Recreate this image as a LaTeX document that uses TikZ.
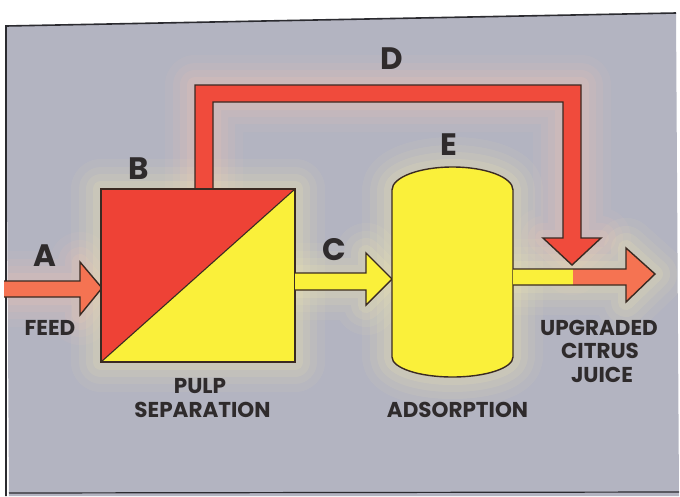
\documentclass[tikz,border=0pt]{standalone}
\usepackage{fontspec}
\setmainfont{Poppins}
\definecolor{bg}{HTML}{B3B4C1}
\definecolor{frameC}{HTML}{2B2B30}
\definecolor{redC}{HTML}{EE4236}
\definecolor{pipeC}{HTML}{F04B3C}
\definecolor{orC}{HTML}{F57352}
\definecolor{yelC}{HTML}{FAF03A}
\definecolor{lineC}{HTML}{3A2A22}
\definecolor{txt}{HTML}{2F2B2C}
\definecolor{glowR}{HTML}{F2C4B6}
\definecolor{glowY}{HTML}{EEE6B4}
\newcommand\glowit[2]{\foreach \gw/\go in {60/0.08,44/0.10,30/0.13,16/0.18}{\draw[draw=#1,line width=\gw pt,opacity=\go,line join=round,line cap=round] #2;}}
\def\pathA{(4,281) -- (80,281) -- (80,262) -- (102,288) -- (80,315) -- (80,297) -- (4,297)}
\def\pathD{(195,189) -- (195,85) -- (581,85) -- (581,238) -- (601,238) -- (572,265) -- (543,238) -- (563,238) -- (563,102) -- (213,102) -- (213,189)}
\def\pathC{(295,273) -- (366,273) -- (366,253) -- (392,279) -- (366,305) -- (366,290) -- (295,290)}
\def\pathE{(392,357) -- (392,190) .. controls (392,177.3) and (419.1,167) .. (452.5,167) .. controls (485.9,167) and (513,177.3) .. (513,190) -- (513,357) .. controls (513,368) and (485.9,377) .. (452.5,377) .. controls (419.1,377) and (392,368) .. (392,357) -- cycle}
\def\pathF{(513,269) -- (626,269) -- (626,248) -- (655,274) -- (626,302) -- (626,285) -- (513,285)}
\begin{document}
\begin{tikzpicture}[x=1pt,y=-1pt,
  outl/.style={draw=lineC,line width=1.4pt,line join=miter},
  lab/.style={font=\bfseries\fontsize{21.5}{24}\selectfont,text=txt,inner sep=0pt,anchor=base},
  big/.style={font=\bfseries\fontsize{31}{34}\selectfont,text=txt,inner sep=0pt}]
\useasboundingbox (0,0) rectangle (680,496);
\fill[white] (0,0) rectangle (680,496);
% panel
\fill[bg] (6,26) -- (676,13) -- (679,496) -- (9,496) -- cycle;
\draw[frameC,line width=1.6pt] (6,496) -- (6,26) -- (676,13);
\draw[frameC,line width=1.2pt] (9,493) -- (679,492);
% named blocks
\node[minimum width=194pt,minimum height=173pt,inner sep=0pt,outer sep=0pt] (sep) at (198,275.5) {};
\node[minimum width=121pt,minimum height=210pt,inner sep=0pt,outer sep=0pt] (ads) at (452.5,272) {};
% glows
\begin{scope}
\clip (6,26) -- (676,13) -- (679,493) -- (9,493) -- cycle;
\glowit{glowR}{\pathA -- cycle}
\glowit{glowR}{\pathD -- cycle}
\glowit{glowY}{(sep.north west) rectangle (sep.south east)}
\glowit{glowY}{\pathC -- cycle}
\glowit{glowY}{\pathE}
\glowit{glowY}{\pathF -- cycle}
\end{scope}
% feed arrow A
\filldraw[fill=orC,outl] \pathA;
% recycle pipe D
\filldraw[fill=pipeC,outl] \pathD;
% pulp separation box B
\fill[redC] (sep.north west) -- (sep.north east) -- (sep.south west) -- cycle;
\fill[yelC] (sep.north east) -- (sep.south east) -- (sep.south west) -- cycle;
\draw[outl] (sep.north west) rectangle (sep.south east);
\draw[lineC,line width=1.1pt] (sep.south west) -- (sep.north east);
% arrow C
\filldraw[fill=yelC,outl] \pathC;
% adsorption column E
\filldraw[fill=yelC,outl] \pathE;
% output arrow
\fill[yelC] \pathF -- cycle;
\begin{scope}
\clip (573,0) rectangle (680,496);
\fill[orC] \pathF -- cycle;
\end{scope}
\draw[outl] \pathF;
% labels
\node[big] (lA) at (45,256) {A};
\node[big] (lB) at (139,169) {B};
\node[big] (lC) at (334,250) {C};
\node[big] (lD) at (392,59) {D};
\node[big] (lE) at (449,145) {E};
\node[lab] (feed) at (50,335) {FEED};
\node[lab] (pulp) at (200,393) {PULP};
\node[lab] (separ) at (202.5,417) {SEPARATION};
\node[lab] (adsl) at (457.5,417) {ADSORPTION};
\node[lab] (upg) at (599,335) {UPGRADED};
\node[lab] (cit) at (600,358) {CITRUS};
\node[lab] (juice) at (602,382) {JUICE};
\end{tikzpicture}
\end{document}
